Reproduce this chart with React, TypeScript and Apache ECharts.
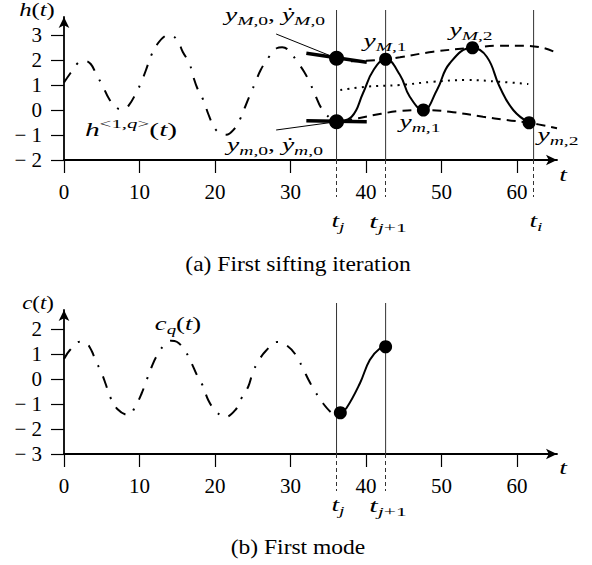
import React, { useEffect, useRef } from 'react';
import * as echarts from 'echarts';

const FONT = 'Liberation Serif';

// ---------- panel (a) ----------
const hT = [0, 0.89, 1.89, 2.7, 3.54, 4.33, 5.13, 6.0, 7.06, 7.8, 8.52, 9.54, 10.2, 10.86, 11.52, 12.28, 13.38, 14.0, 15.0, 15.72, 16.6, 17.13, 17.66, 18.45, 19.11, 19.78, 20.26, 20.89, 21.5, 22.52, 23.31, 23.97, 24.73, 25.3, 26.05, 27.06, 28.17, 28.9, 29.71, 30.9, 31.8, 32.6, 33.4, 34.1, 35.5, 36.1];
const hV = [1.1, 1.49, 1.89, 1.97, 1.84, 1.4, 0.96, 0.43, 0.07, 0.03, 0.16, 0.67, 1.09, 1.6, 2.16, 2.6, 2.96, 3.0, 2.8, 2.33, 1.87, 1.33, 0.87, 0.4, -0.16, -0.64, -0.84, -0.96, -0.99, -0.77, -0.37, 0.11, 0.67, 1.07, 1.6, 2.09, 2.47, 2.51, 2.4, 1.93, 1.53, 1.07, 0.51, 0.07, -0.4, -0.47];

const sT = [36.1, 38.1, 39.6, 41.0, 42.6, 44.5, 45.8, 47.6, 49.4, 51.1, 54.1, 56.0, 57.7, 59.5, 61.6];
const sV = [-0.47, -0.27, 0.67, 1.6, 2.03, 1.4, 0.53, 0.0, 0.8, 1.87, 2.49, 2.13, 0.93, 0.0, -0.51];

const upT = [38, 40, 42.6, 44.5, 48.9, 54.1, 57.5, 61, 63.5, 65.4];
const upV = [1.95, 1.97, 2.03, 2.11, 2.33, 2.49, 2.57, 2.57, 2.48, 2.27];

const loT = [37, 39, 42, 44.5, 47.6, 51.1, 55.5, 58.6, 61.6, 65.3];
const loV = [-0.45, -0.33, -0.15, -0.04, 0.0, -0.07, -0.27, -0.4, -0.51, -0.73];

const meanT = [36.6, 40, 44.5, 48.9, 53.3, 57.7, 61.5];
const meanV = [0.8, 0.93, 1.0, 1.13, 1.2, 1.13, 1.04];

const bigDotsA = [[36.1, 2.07], [36.1, -0.47]];
const smallDotsA = [[42.6, 2.03], [47.6, 0.0], [54.1, 2.49], [61.6, -0.51]];

const tangentUp = [[32.1, 2.27], [40.1, 1.91]];
const tangentLo = [[32.1, -0.43], [40.1, -0.47]];
const leaderUp = [[28.1, 3.04], [36.1, 2.07]];
const leaderLo = [[28.1, -0.8], [36.1, -0.47]];

const knotsA = [36.1, 42.6, 62.2];

// ---------- panel (b) ----------
const cT = [0, 0.79, 2.12, 2.9, 3.67, 4.1, 4.99, 5.52, 6.09, 7.06, 8.52, 9.54, 10.29, 10.95, 11.62, 12.28, 13.38, 14.2, 14.93, 16.03, 16.9, 17.6, 18.4, 19.1, 20.0, 21.3, 22.78, 23.5, 24.4, 25.0, 25.7, 26.75, 28.25, 29.6, 30.7, 31.7, 32.4, 33.2, 34.3, 35.5, 36.1];
const cV = [0.8, 1.16, 1.49, 1.45, 1.12, 0.8, 0.23, -0.2, -0.7, -1.2, -1.44, -1.04, -0.57, -0.04, 0.49, 0.92, 1.4, 1.53, 1.49, 1.13, 0.63, 0.16, -0.28, -0.84, -1.24, -1.53, -1.21, -0.77, -0.31, 0.25, 0.69, 1.13, 1.48, 1.32, 0.96, 0.39, -0.04, -0.47, -0.97, -1.37, -1.44];

const bT = [36.6, 37.4, 39.2, 40.5, 41.9, 42.6];
const bV = [-1.35, -1.17, -0.17, 0.76, 1.24, 1.29];
const dotsB = [[36.6, -1.35], [42.6, 1.29]];

const knotsB = [36.1, 42.6];

// ---------- axes ----------
const xTicks = [0, 10, 20, 30, 40, 50, 60];
const yTicksA = [-2, -1, 0, 1, 2, 3];
const yTicksB = [-3, -2, -1, 0, 1, 2];
const X_MAX = 65.3;
const Y_A = [-2, 3.72];
const Y_B = [-3, 2.76];
const V_TOP_A = 4.0;
const V_TOP_B = 3.04;

const pairs = (t: number[], v: number[]) => t.map((x, i) => [x, v[i]]);

const BASE = 19;
const SUB = 13.5;
const LH = 22;
const rich: any = {
  m: { fontFamily: FONT, fontStyle: 'italic', fontSize: BASE, lineHeight: LH, fill: '#000', color: '#000' },
  r: { fontFamily: FONT, fontSize: BASE, lineHeight: LH, fill: '#000', color: '#000' },
  sb: { fontFamily: FONT, fontStyle: 'italic', fontSize: SUB, lineHeight: LH, padding: [12, 0, 0, 0], fill: '#000', color: '#000' },
  sbr: { fontFamily: FONT, fontSize: SUB, lineHeight: LH, padding: [12, 0, 0, 0], fill: '#000', color: '#000' },
  sp: { fontFamily: FONT, fontStyle: 'italic', fontSize: SUB, lineHeight: LH, padding: [0, 0, 12, 0], fill: '#000', color: '#000' },
  spr: { fontFamily: FONT, fontSize: SUB, lineHeight: LH, padding: [0, 0, 12, 0], fill: '#000', color: '#000' },
};

const axisColor = '#000';

const mainX = (gi: number) => ({
  type: 'value', gridIndex: gi, min: 0, max: X_MAX, position: 'bottom',
  axisLine: { show: true, onZero: false, symbol: ['none', 'arrow'], symbolSize: [8, 11], lineStyle: { color: axisColor, width: 1.8 } },
  axisTick: { show: true, customValues: xTicks, length: 13, lineStyle: { color: axisColor, width: 1.2 } },
  axisLabel: { show: true, customValues: xTicks, margin: 21, color: '#000', fontFamily: FONT, fontSize: 21 },
  splitLine: { show: false },
});

const knotX = (gi: number, vals: number[]) => ({
  type: 'value', gridIndex: gi, min: 0, max: X_MAX, position: 'bottom',
  axisLine: { show: false, onZero: false },
  axisTick: { show: true, customValues: vals, length: 37, lineStyle: { color: '#333', width: 1, type: [4, 3] } },
  axisLabel: { show: false },
  splitLine: { show: false },
});

const mainY = (gi: number, ext: number[], ticks: number[]) => ({
  type: 'value', gridIndex: gi, min: ext[0], max: ext[1],
  axisLine: { show: true, onZero: false, symbol: ['none', 'arrow'], symbolSize: [8, 11], lineStyle: { color: axisColor, width: 1.8 } },
  axisTick: { show: true, customValues: ticks, length: 13, lineStyle: { color: axisColor, width: 1.2 } },
  axisLabel: {
    show: true, customValues: ticks, margin: 22, color: '#000', fontFamily: FONT, fontSize: 21,
    formatter: (v: number) => (v < 0 ? '\u2212\u2005' + String(-v) : String(v)),
  },
  splitLine: { show: false },
});

const lineSeries = (xi: number, yi: number, data: number[][], lineStyle: any, extra: any = {}) => ({
  type: 'line', xAxisIndex: xi, yAxisIndex: yi, data, showSymbol: false, symbol: 'none',
  clip: false, silent: true, lineStyle: { color: '#000', ...lineStyle }, z: 2, ...extra,
});

const dots = (xi: number, yi: number, data: number[][], size: number) => ({
  type: 'scatter', xAxisIndex: xi, yAxisIndex: yi, data, symbolSize: size,
  itemStyle: { color: '#000', opacity: 1 }, z: 5, silent: true, clip: false,
});

const DASHDOT = [12, 10, 2, 10];
const SX = 1.45;

const label = (x: number, y: number, text: string, sx = SX) => ({
  type: 'text', x, y, scaleX: sx, silent: true,
  style: { text, rich, align: 'center', verticalAlign: 'middle', fill: '#000' },
});

const option: any = {
  animation: false,
  backgroundColor: '#fff',
  grid: [
    { left: 64, top: 17, width: 493, height: 143 },
    { left: 64, top: 310, width: 493, height: 144 },
  ],
  xAxis: [mainX(0), knotX(0, knotsA), mainX(1), knotX(1, knotsB)],
  yAxis: [mainY(0, Y_A, yTicksA), mainY(1, Y_B, yTicksB)],
  series: [
    // panel (a)
    ...knotsA.map((k) => lineSeries(0, 0, [[k, Y_A[0]], [k, V_TOP_A]], { color: '#333', width: 1 }, { z: 1 })),
    lineSeries(0, 0, pairs(hT, hV), { width: 2, type: DASHDOT }, { smooth: 0.4 }),
    lineSeries(0, 0, pairs(upT, upV), { width: 2, type: [9, 6] }, { smooth: 0.4 }),
    lineSeries(0, 0, pairs(loT, loV), { width: 2, type: [9, 6] }, { smooth: 0.4 }),
    lineSeries(0, 0, pairs(meanT, meanV), { width: 2, type: [2, 5.2] }, { smooth: 0.4 }),
    lineSeries(0, 0, pairs(sT, sV), { width: 2 }, { smooth: 0.45 }),
    lineSeries(0, 0, tangentUp, { width: 3.5 }),
    lineSeries(0, 0, tangentLo, { width: 3.5 }),
    lineSeries(0, 0, leaderUp, { width: 1 }),
    lineSeries(0, 0, leaderLo, { width: 1 }),
    dots(0, 0, bigDotsA, 15),
    dots(0, 0, smallDotsA, 13),
    // panel (b)
    ...knotsB.map((k) => lineSeries(2, 1, [[k, Y_B[0]], [k, V_TOP_B]], { color: '#333', width: 1 }, { z: 1 })),
    lineSeries(2, 1, pairs(cT, cV), { width: 2, type: DASHDOT }, { smooth: 0.4 }),
    lineSeries(2, 1, pairs(bT, bV), { width: 2 }, { smooth: 0.4 }),
    dots(2, 1, dotsB, 13),
  ],
  graphic: [
    label(37, 10, '{m|h}{r|(}{m|t}{r|)}', 1.3),
    label(38, 303, '{m|c}{r|(}{m|t}{r|)}', 1.2),
    label(563, 175, '{m|t}'),
    label(563, 468, '{m|t}'),
    label(275, 15, '{m|y}{sb|M}{sbr|,0}{r|, }{m|\u1E8F}{sb|M}{sbr|,0}'),
    label(275, 145, '{m|y}{sb|m}{sbr|,0}{r|, }{m|\u1E8F}{sb|m}{sbr|,0}'),
    label(385, 41, '{m|y}{sb|M}{sbr|,1}'),
    label(471, 30, '{m|y}{sb|M}{sbr|,2}'),
    label(420, 122, '{m|y}{sb|m}{sbr|,1}'),
    label(558, 135, '{m|y}{sb|m}{sbr|,2}'),
    label(131, 129, '{m|h}{spr|<1,}{sp|q}{spr|>}{r|(}{m|t}{r|)}', 1.55),
    label(178, 323, '{m|c}{sb|q}{r|(}{m|t}{r|)}', 1.4),
    label(338, 221, '{m|t}{sb|j}'),
    label(388, 221, '{m|t}{sb|j}{sbr|+1}', 1.6),
    label(536, 221, '{m|t}{sb|i}'),
    label(338, 505, '{m|t}{sb|j}'),
    label(388, 505, '{m|t}{sb|j}{sbr|+1}', 1.6),
    { type: 'text', x: 298, y: 264, scaleX: 1.07, silent: true, style: { text: '(a) First sifting iteration', fontFamily: FONT, fontSize: 22, fill: '#000', align: 'center', verticalAlign: 'middle' } },
    { type: 'text', x: 298, y: 547, scaleX: 1.07, silent: true, style: { text: '(b) First mode', fontFamily: FONT, fontSize: 22, fill: '#000', align: 'center', verticalAlign: 'middle' } },
  ],
};

export default function App() {
  const ref = useRef<HTMLDivElement>(null);
  useEffect(() => {
    document.body.style.margin = '0';
    const chart = echarts.init(ref.current!, null, { renderer: 'svg' });
    chart.setOption(option);
    return () => chart.dispose();
  }, []);
  return <div ref={ref} style={{ width: 592, height: 565 }} />;
}
